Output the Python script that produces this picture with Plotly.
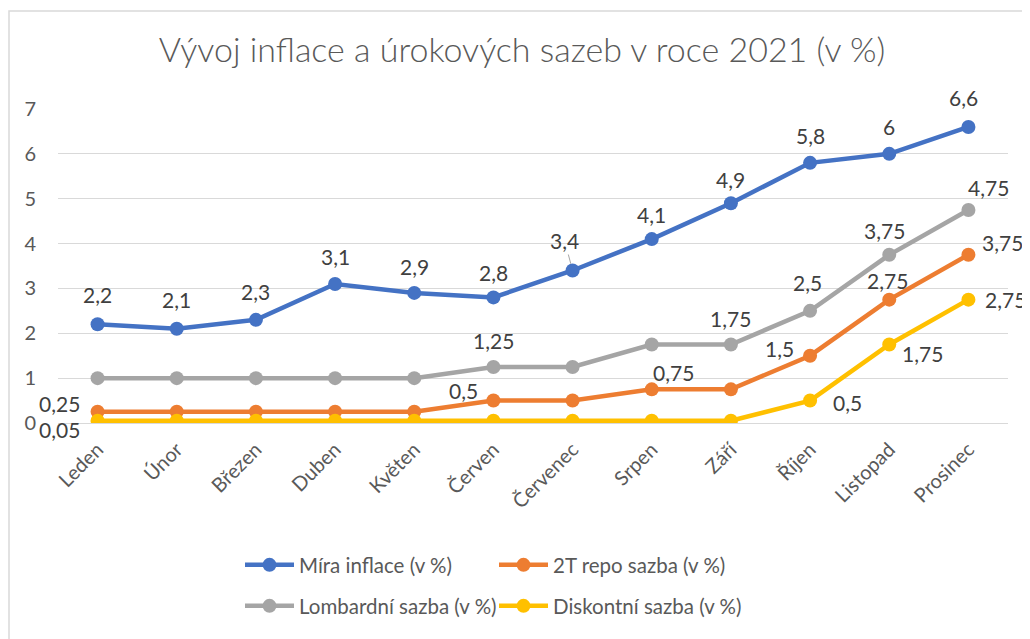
import plotly.graph_objects as go

months = ["Leden", "Únor", "Březen", "Duben", "Květen", "Červen",
          "Červenec", "Srpen", "Září", "Říjen", "Listopad", "Prosinec"]

inflace = [2.2, 2.1, 2.3, 3.1, 2.9, 2.8, 3.4, 4.1, 4.9, 5.8, 6, 6.6]
repo = [0.25, 0.25, 0.25, 0.25, 0.25, 0.5, 0.5, 0.75, 0.75, 1.5, 2.75, 3.75]
lombard = [1, 1, 1, 1, 1, 1.25, 1.25, 1.75, 1.75, 2.5, 3.75, 4.75]
diskont = [0.05, 0.05, 0.05, 0.05, 0.05, 0.05, 0.05, 0.05, 0.05, 0.5, 1.75, 2.75]

names = ["Míra inflace (v %)", "2T repo sazba (v %)",
         "Lombardní sazba (v %)", "Diskontní sazba (v %)"]
colors = ["#4472C4", "#ED7D31", "#A5A5A5", "#FFC000"]
series = [inflace, repo, lombard, diskont]

# label placement (style): dict index -> (dx, dy) in screen pixels
label_offsets = [
    {0: (0, -30), 1: (0, -29), 2: (0, -28), 3: (0, -27), 4: (0, -26), 5: (0, -25),
     6: (-8, -30), 7: (0, -25), 8: (0, -24), 9: (0, -27), 10: (0, -27), 11: (-5, -29)},
    {0: (-38, -8), 5: (-30, -10), 7: (22, -17), 9: (-31, -7), 10: (-2, -19), 11: (34, -12)},
    {5: (0, -26), 8: (0, -26), 9: (-3, -28), 10: (-5, -24), 11: (20, -22)},
    {0: (-38, 9), 9: (37, 2), 10: (33, 9), 11: (37, 0)},
]
leader = {(0, 6)}

FONT = "Lato"
LBL = 21
fig = go.Figure()
for i, (nm, col, vals) in enumerate(zip(names, colors, series)):
    fig.add_trace(go.Scatter(
        x=months, y=vals, name=nm, mode="lines+markers",
        line=dict(color=col, width=4.5),
        marker=dict(color=col, size=14),
        legend="legend" if i < 2 else "legend2",
    ))

def fmt(v):
    return ("%g" % v).replace(".", ",")

annotations = []
for si, vals in enumerate(series):
    for idx, (dx, dy) in label_offsets[si].items():
        if (si, idx) in leader:
            annotations.append(dict(
                x=months[idx], y=vals[idx], text=fmt(vals[idx]),
                showarrow=True, arrowhead=0, arrowwidth=1, arrowcolor="#a6a6a6",
                ax=dx, ay=dy, standoff=7,
                font=dict(family=FONT, size=LBL, color="#404040")))
        else:
            annotations.append(dict(
                x=months[idx], y=vals[idx], text=fmt(vals[idx]),
                showarrow=False, xshift=dx, yshift=-dy,
                font=dict(family=FONT, size=LBL, color="#404040")))

# page body has an 8px margin; figure coordinates are screen - 8
OFF = 8
SW, SH = 1030, 639
W, H = SW - OFF, SH - OFF
plot_l, plot_r, plot_t, plot_b = 58, 1008, 109, 423  # screen pixels
L, R, T, B = plot_l - OFF, W - (plot_r - OFF), plot_t - OFF, H - (plot_b - OFF)
pw, ph = W - L - R, H - T - B

def px(xs):
    return (xs - plot_l) / pw

def py(ys):
    return (plot_b - ys) / ph

fig.update_layout(
    width=W, height=H,
    margin=dict(l=L, r=R, t=T, b=B),
    paper_bgcolor="white", plot_bgcolor="white",
    font=dict(family=FONT, color="#595959"),
    title=dict(text="Vývoj inflace a úrokových sazeb v roce 2021 (v %)",
               x=(522 - OFF) / W, xanchor="center", y=1 - (50 - OFF) / H, yanchor="middle",
               font=dict(family=FONT, size=34, color="#595959", weight=300)),
    xaxis=dict(type="category", range=[-0.5, 11.5], tickangle=-45,
               showgrid=False, showline=False, ticks="", ticklabelstandoff=10,
               tickfont=dict(family=FONT, size=20, color="#595959")),
    yaxis=dict(range=[0, 7], dtick=1, showgrid=True, gridcolor="#d9d9d9", gridwidth=1,
               zeroline=True, zerolinecolor="#d9d9d9", zerolinewidth=1,
               ticks="", ticklabelstandoff=21,
               tickfont=dict(family=FONT, size=20, color="#595959")),
    legend=dict(orientation="h", x=px(240), y=py(565), xanchor="left", yanchor="middle",
                entrywidth=190, itemwidth=49, font=dict(family=FONT, size=20.5, color="#595959"),
                bgcolor="rgba(0,0,0,0)"),
    legend2=dict(orientation="h", x=px(240), y=py(606), xanchor="left", yanchor="middle",
                 entrywidth=190, itemwidth=49, font=dict(family=FONT, size=20.5, color="#595959"),
                 bgcolor="rgba(0,0,0,0)"),
    annotations=annotations,
    shapes=[dict(type="rect", xref="paper", yref="paper",
                 x0=px(9), x1=px(1029), y0=py(660), y1=py(11),
                 line=dict(color="#d9d9d9", width=1.5), fillcolor="rgba(0,0,0,0)",
                 layer="below")],
    showlegend=True,
)

fig.write_html("out.html")
